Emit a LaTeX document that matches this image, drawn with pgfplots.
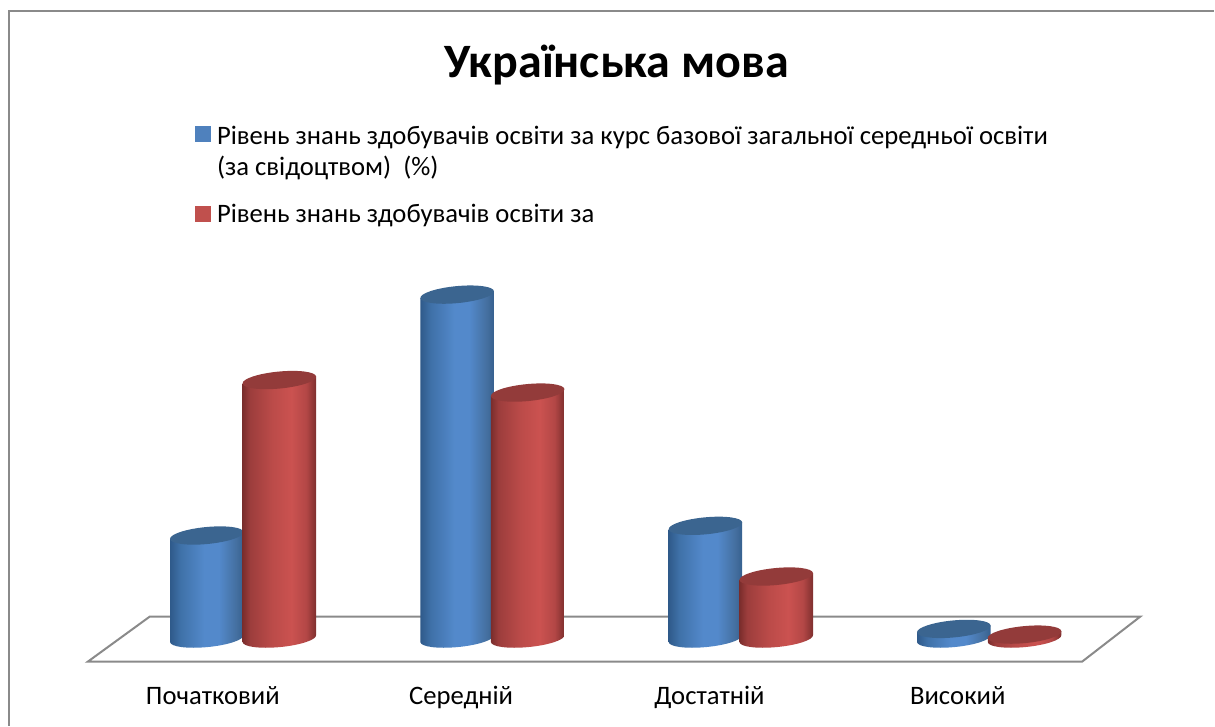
\documentclass[border=0pt]{standalone}
\usepackage{fontspec}
\setmainfont{Carlito}
\usepackage{pgfplots}
\pgfplotsset{compat=1.18}

\definecolor{frame}{HTML}{8A8A8A}
\definecolor{legblue}{HTML}{4F81BD}
\definecolor{legred}{HTML}{C0504D}
\definecolor{topblue}{HTML}{3B6590}
\definecolor{topred}{HTML}{933B3A}
\definecolor{ba}{HTML}{2F5A8A}
\definecolor{bb}{HTML}{3F71A8}
\definecolor{bc}{HTML}{5389CB}
\definecolor{bd}{HTML}{446F9F}
\definecolor{be}{HTML}{355F8E}
\definecolor{ra}{HTML}{7A2D2C}
\definecolor{rb}{HTML}{9C3D3C}
\definecolor{rc}{HTML}{BB4B49}
\definecolor{rd}{HTML}{CB5250}
\definecolor{re}{HTML}{B34746}
\definecolor{rf}{HTML}{7C2E2D}

% the inner 25bp-75bp of a shading is fitted to the path
\pgfdeclarehorizontalshading{cylblue}{100bp}{
  color(0bp)=(ba); color(25bp)=(ba); color(32bp)=(bb);
  color(48bp)=(bc); color(58bp)=(bc); color(70bp)=(bd);
  color(75bp)=(be); color(100bp)=(be)}
\pgfdeclarehorizontalshading{cylred}{100bp}{
  color(0bp)=(ra); color(25bp)=(ra); color(30bp)=(rb);
  color(45bp)=(rc); color(58bp)=(rd); color(68bp)=(re);
  color(75bp)=(rf); color(100bp)=(rf)}

\newcommand{\yu}{4.275}% pt per percent

% whole cylinder, drawn down from the top centre of the point,
% ellipse slightly tilted, written out as bezier arcs
\newcommand{\cylinder}[2]{%
  \pgfmathsetmacro{\H}{\rawy*\yu}%
  \shade[shading=#1, draw=none] (-27.6pt,-2.63pt) -- (-27.6pt,-2.63pt-\H pt)
    .. controls (-27.26pt,-6.14pt-\H pt) and (-14.63pt,-7.8pt-\H pt) .. (0.61pt,-6.35pt-\H pt)
    .. controls (15.85pt,-4.9pt-\H pt) and (27.94pt,-0.88pt-\H pt) .. (27.6pt,2.63pt-\H pt)
    -- (27.6pt,2.63pt) -- cycle;
  \fill[#2, draw=none] (27.6pt,2.63pt)
    .. controls (27.26pt,6.14pt) and (14.63pt,7.8pt) .. (-0.61pt,6.35pt)
    .. controls (-15.85pt,4.9pt) and (-27.94pt,0.88pt) .. (-27.6pt,-2.63pt)
    .. controls (-27.26pt,-6.14pt) and (-14.63pt,-7.8pt) .. (0.61pt,-6.35pt)
    .. controls (15.85pt,-4.9pt) and (27.94pt,-0.88pt) .. (27.6pt,2.63pt) -- cycle;
}
\pgfdeclareplotmark{cylb}{\cylinder{cylblue}{topblue}}
\pgfdeclareplotmark{cylr}{\cylinder{cylred}{topred}}

\begin{document}
\begin{tikzpicture}
\begin{axis}[
  scale only axis,
  x=186.4pt, y=\yu pt,
  xmin=-0.857, xmax=4.032,
  ymin=-15.26, ymax=112.11,
  clip=false,
  axis line style={draw=none},
  major tick length=0pt,
  ytick=\empty,
  xtick={0,1,2,3},
  xticklabels={Початковий,Середній,Достатній,Високий},
  x tick label style={font=\fontsize{20}{24}\selectfont, anchor=base, yshift=15.5pt},
  title={Українська мова},
  title style={at={(617/1215,0.882)}, anchor=base, font=\fontsize{36}{42}\selectfont\bfseries},
  legend style={at={(195/1215,0.8301)}, anchor=north west, draw=none, fill=none,
    font=\fontsize{20}{23.6}\selectfont, row sep=39.75pt, column sep=3pt,
    inner sep=0pt, outer sep=0pt, cells={anchor=base west}},
  legend cell align=left,
  every axis plot/.append style={
    only marks, scatter, scatter src=y,
    scatter/@pre marker code/.code={}, scatter/@post marker code/.code={},
    visualization depends on=rawy \as \rawy},
]
% floor and frame of the chart area
\draw[frame, line width=1.5pt] (axis cs:-0.503,-4.04) -- (axis cs:3.501,-4.04)
  -- (axis cs:3.735,3.86) -- (axis cs:-0.254,3.86) -- cycle;
\draw[frame, line width=1.5pt] (rel axis cs:0.0078,0) -- (rel axis cs:0.0078,0.985)
  -- (rel axis cs:1,0.985);

\addplot[mark=cylb,
  legend image code/.code={\fill[legblue] (0pt,-3.6pt) rectangle (11.25pt,7.6pt);}]
  coordinates {(-0.024,18.1)(0.984,60.4)(1.984,19.8)(2.984,1.7)};
\addlegendentry{\vtop{\hbox{Рівень знань здобувачів освіти за курс базової загальної середньої освіти}\hbox{(за свідоцтвом)\ \ (\%)}}}
\addplot[mark=cylr,
  legend image code/.code={\fill[legred] (0pt,-5.1pt) rectangle (11.25pt,6.1pt);}]
  coordinates {(0.268,45.4)(1.268,43.2)(2.269,10.9)(3.269,0.7)};
\addlegendentry{Рівень знань здобувачів освіти за}
\end{axis}
\end{tikzpicture}
\end{document}
